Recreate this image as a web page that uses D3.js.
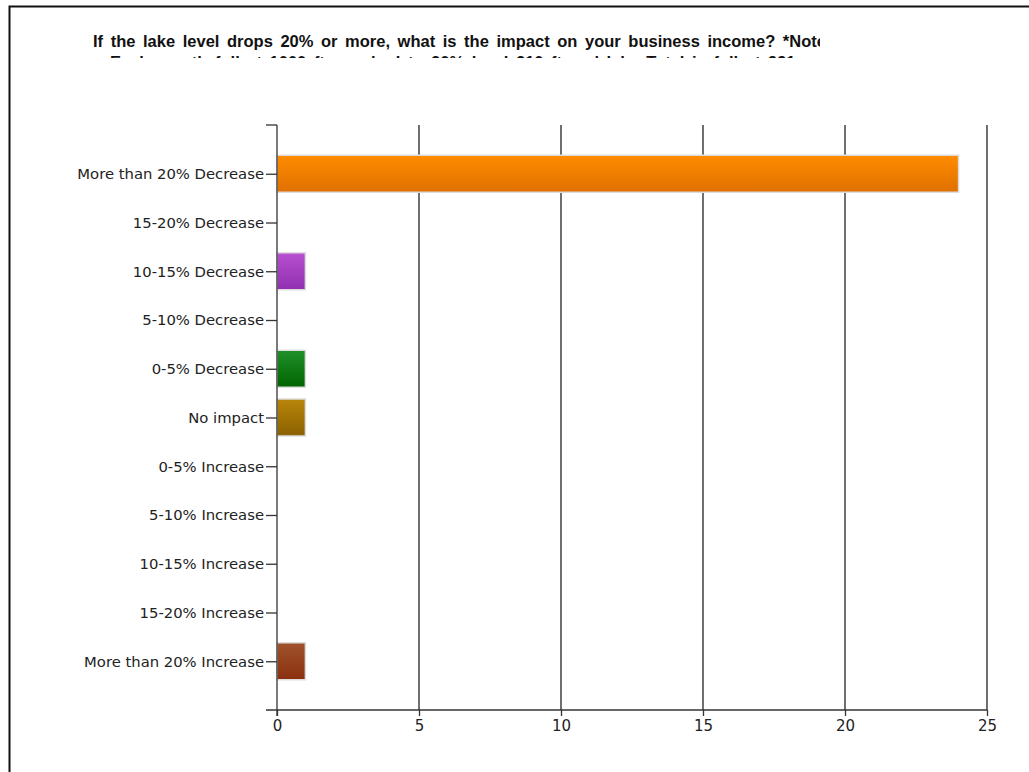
<!DOCTYPE html>
<html><head><meta charset="utf-8">
<script src="https://cdn.jsdelivr.net/npm/d3@7"></script>
<style>body{margin:0;background:#fff;}svg{display:block;}</style>
</head><body>
<svg id="c" width="1029" height="772"></svg>
<script>
const categories = ["More than 20% Decrease","15-20% Decrease","10-15% Decrease","5-10% Decrease","0-5% Decrease","No impact","0-5% Increase","5-10% Increase","10-15% Increase","15-20% Increase","More than 20% Increase"];
const values = [24,0,1,0,1,1,0,0,0,0,1];
const colorsTop = ["#FF8C00","#FF8C00","#B850D0","#888","#20902A","#B8860B","#888","#888","#888","#888","#A0522D"];
const colorsBottom = ["#E07000","#E07000","#9030B0","#666","#006400","#8B6000","#666","#666","#666","#666","#8B3010"];
const xTicks = [0,5,10,15,20,25];
const title1 = "If the lake level drops 20% or more, what is the impact on your business income? *Note";
const title2 = "Each month full at 1000 ft, reached to 20% level 210 ft and lake Total is full at 991";

(function(){
const svg = d3.select("#c");
const pL = 277, pR = 987, pT = 125, pB = 710;
const x = d3.scaleLinear().domain([0,25]).range([pL,pR]);
const y = d3.scaleLinear().domain([0,categories.length+1]).range([pT,pB]);
const barH = 37;

svg.append("path").attr("d","M9.5,772 L9.5,6.5 L1029,6.5").attr("fill","none").attr("stroke","#111").attr("stroke-width",2);

const defs = svg.append("defs");
defs.append("clipPath").attr("id","tclip").append("rect").attr("x",0).attr("y",20).attr("width",820).attr("height",38);
const tg = svg.append("g").attr("clip-path","url(#tclip)")
  .style("font-family","'Liberation Sans',Arial,sans-serif").style("font-weight","bold").style("font-size","16.5px")
  .style("word-spacing","3px").attr("fill","#111");
tg.append("text").attr("x",93).attr("y",47).text(title1);
tg.append("text").attr("x",110).attr("y",68).text(title2);

categories.forEach((c,i)=>{
  const g = defs.append("linearGradient").attr("id","g"+i).attr("x1",0).attr("y1",0).attr("x2",0).attr("y2",1);
  g.append("stop").attr("offset","0%").attr("stop-color",colorsTop[i]);
  g.append("stop").attr("offset","100%").attr("stop-color",colorsBottom[i]);
});

svg.append("g").selectAll("line").data(xTicks.slice(1)).join("line")
  .attr("x1",d=>x(d)).attr("x2",d=>x(d)).attr("y1",pT).attr("y2",pB)
  .attr("stroke","#222").attr("stroke-width",1.3);

svg.append("g").selectAll("rect").data(values.map((v,i)=>({v,i})).filter(d=>d.v>0)).join("rect")
  .attr("x",x(0)).attr("y",d=>y(d.i+1)-barH/2).attr("width",d=>x(d.v)-x(0)).attr("height",barH)
  .attr("fill",d=>"url(#g"+d.i+")").attr("stroke","#ddd").attr("stroke-width",1.5);

const xa = svg.append("g").attr("transform",`translate(0,${pB})`)
  .call(d3.axisBottom(x).tickValues(xTicks).tickSize(6).tickPadding(4).tickSizeOuter(0));
xa.select(".domain").remove();
xa.append("line").attr("x1",266).attr("x2",pR).attr("y1",0).attr("y2",0).attr("stroke","#333").attr("stroke-width",1.3);
xa.selectAll(".tick line").attr("stroke","#333").attr("stroke-width",1.3);
xa.selectAll(".tick text").attr("fill","#222").style("font-family","'DejaVu Sans',sans-serif").style("font-size","15px");

const ya = svg.append("g").attr("transform",`translate(${pL},0)`)
  .call(d3.axisLeft(y).tickValues(d3.range(1,categories.length+1)).tickFormat(d=>categories[d-1]).tickSize(11).tickPadding(2).tickSizeOuter(0));
ya.select(".domain").remove();
ya.append("line").attr("x1",0).attr("x2",0).attr("y1",pT).attr("y2",pB+6).attr("stroke","#333").attr("stroke-width",1.3);
ya.append("line").attr("x1",-11).attr("x2",0).attr("y1",pT).attr("y2",pT).attr("stroke","#333").attr("stroke-width",1.3);
ya.selectAll(".tick line").attr("stroke","#333").attr("stroke-width",1.3);
ya.selectAll(".tick text").attr("fill","#222").style("font-family","'DejaVu Sans',sans-serif").style("font-size","14.8px");
})();
</script>
</body></html>
